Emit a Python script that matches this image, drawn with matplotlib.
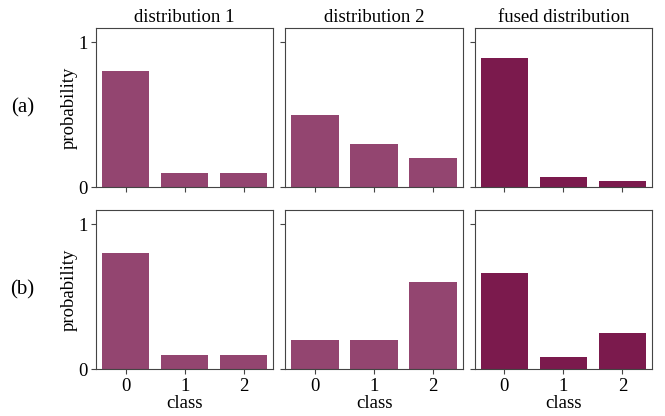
import matplotlib
matplotlib.use("Agg")
import matplotlib.pyplot as plt
import numpy as np

plt.rcParams['font.family'] = ['Liberation Serif', 'DejaVu Serif']

classes = [0, 1, 2]
col_titles = ["distribution 1", "distribution 2", "fused distribution"]
row_labels = ["(a)", "(b)"]
dist1_a = [0.8, 0.1, 0.1]
dist2_a = [0.5, 0.3, 0.2]
fused_a = [0.889, 0.067, 0.044]
dist1_b = [0.8, 0.1, 0.1]
dist2_b = [0.2, 0.2, 0.6]
fused_b = [0.667, 0.083, 0.25]

rows = [[dist1_a, dist2_a, fused_a], [dist1_b, dist2_b, fused_b]]
colors = ["#934570", "#934570", "#7b1a4d"]

fig, axes = plt.subplots(2, 3, figsize=(6.65, 4.16), dpi=100)
fig.subplots_adjust(left=0.1444, right=0.9805, top=0.9334, bottom=0.1123,
                    wspace=0.068, hspace=0.142)
fs = 13.5
for r in range(2):
    for c in range(3):
        ax = axes[r, c]
        ax.bar(classes, rows[r][c], width=0.8, color=colors[c])
        ax.set_xlim(-0.5, 2.5)
        ax.set_ylim(0, 1.1)
        ax.set_yticks([0, 1])
        ax.set_xticks(classes)
        for s in ax.spines.values():
            s.set_color("#444444")
        ax.tick_params(colors="#444444", labelcolor="black", labelsize=fs, pad=2.5)
        if c == 0:
            ax.set_yticklabels(["0", "1"])
            ax.set_ylabel("probability", fontsize=fs, labelpad=0.5)
        else:
            ax.set_yticklabels([])
        if r == 1:
            ax.set_xticklabels([str(k) for k in classes])
            ax.set_xlabel("class", fontsize=fs, labelpad=0)
        else:
            ax.set_xticklabels([])
        if r == 0:
            ax.set_title(col_titles[c], fontsize=fs, pad=4)
    fig.text(0.034, (axes[r, 0].get_position().y0 + axes[r, 0].get_position().y1) / 2,
             row_labels[r], fontsize=15, ha="center", va="center")

fig.savefig("out.png", dpi=100)
